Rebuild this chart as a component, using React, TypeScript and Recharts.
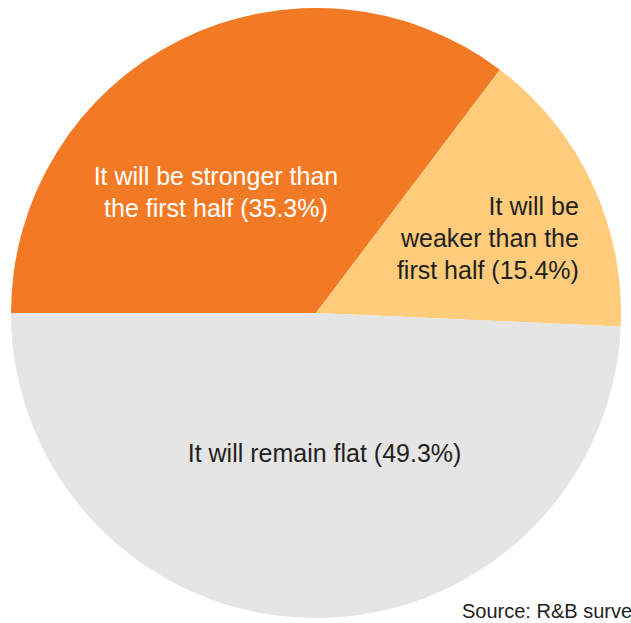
import React from "react";
import { PieChart, Pie, Cell } from "recharts";

// Outlook for the second half vs. the first half
const categories = [
  "It will be stronger than the first half",
  "It will be weaker than the first half",
  "It will remain flat",
];
const shares = [35.3, 15.4, 49.3];
const colors = ["#F37A24", "#FECC7B", "#E4E5E4"];

// how each label is broken into lines
const labelLines = [
  ["It will be stronger than", "the first half (35.3%)"],
  ["It will be", "weaker than the", "first half (15.4%)"],
  ["It will remain flat (49.3%)"],
];

const data = categories.map((name, i) => ({ name, value: shares[i] }));

const FONT = "'Liberation Sans', Arial, sans-serif";

// label placement relative to pie centre, in units of outer radius
const labelPos = [
  { dx: -0.328, dy: -0.421, anchor: "middle", fill: "#ffffff" },
  { dx: 0.862, dy: -0.322, anchor: "end", fill: "#231f20" },
  { dx: 0.028, dy: 0.49, anchor: "middle", fill: "#231f20" },
];

function renderLabel(props: any) {
  const { cx, cy, outerRadius, index } = props;
  const p = labelPos[index];
  const x = cx + p.dx * outerRadius;
  const y = cy + p.dy * outerRadius;
  return (
    <text
      key={`lbl-${index}`}
      x={x}
      y={y}
      textAnchor={p.anchor}
      fill={p.fill}
      fontFamily={FONT}
      fontSize={25}
    >
      {labelLines[index].map((line, j) => (
        <tspan key={j} x={x} dy={j === 0 ? 0 : 32}>
          {line}
        </tspan>
      ))}
    </text>
  );
}

export default function App() {
  return (
    <div
      style={{
        position: "absolute",
        left: 0,
        top: 0,
        width: 631,
        height: 623,
        background: "#ffffff",
        overflow: "hidden",
      }}
    >
      <PieChart
        width={631}
        height={623}
        margin={{ top: 0, right: 0, bottom: 0, left: 0 }}
      >
        <Pie
          data={data}
          dataKey="value"
          nameKey="name"
          cx={316}
          cy={313}
          outerRadius={305}
          startAngle={180}
          endAngle={-180}
          stroke="none"
          label={renderLabel}
          labelLine={false}
          isAnimationActive={false}
        >
          {data.map((d, i) => (
            <Cell key={d.name} fill={colors[i]} />
          ))}
        </Pie>
      </PieChart>
      <div
        style={{
          position: "absolute",
          left: 462,
          top: 599,
          fontFamily: FONT,
          fontSize: 20,
          color: "#231f20",
          whiteSpace: "nowrap",
          lineHeight: "24px",
        }}
      >
        Source: R&amp;B survey
      </div>
    </div>
  );
}
